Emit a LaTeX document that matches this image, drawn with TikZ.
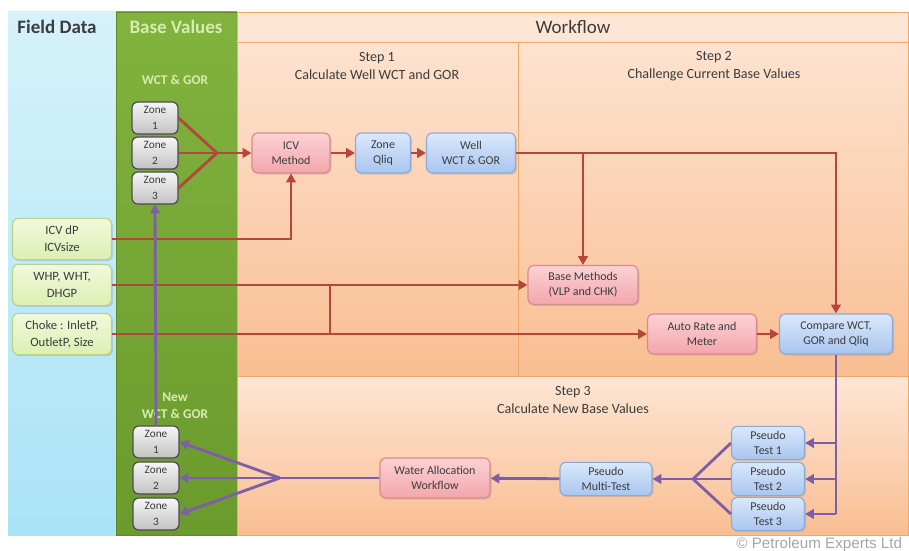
\documentclass[tikz,border=0pt]{standalone}
\usepackage{fontspec}
\setmainfont{Carlito}
\newfontfamily\creditfont{Liberation Sans}
\usetikzlibrary{arrows.meta,shadows}
\definecolor{fieldtop}{HTML}{D6F2FB}
\definecolor{fieldbot}{HTML}{A9E3F6}
\definecolor{basetop}{HTML}{82B33E}
\definecolor{basebot}{HTML}{6B9A2D}
\definecolor{baseedge}{HTML}{5F8A28}
\definecolor{basetext}{HTML}{D8ECB0}
\definecolor{wftop}{HTML}{FDE3D0}
\definecolor{wfbot}{HTML}{F9BE92}
\definecolor{wfhead}{HTML}{FDE6D5}
\definecolor{wfedge}{HTML}{F0A868}
\definecolor{pinktop}{HTML}{FBD2D4}
\definecolor{pinkbot}{HTML}{F3A6AC}
\definecolor{pinkedge}{HTML}{D98A8E}
\definecolor{bluetop}{HTML}{DAE8FB}
\definecolor{bluebot}{HTML}{A9C5EF}
\definecolor{blueedge}{HTML}{8EAAD6}
\definecolor{zonetop}{HTML}{F6F6F6}
\definecolor{zonebot}{HTML}{C2C2C2}
\definecolor{zoneedge}{HTML}{4A4A4A}
\definecolor{datatop}{HTML}{F1F9DC}
\definecolor{databot}{HTML}{DCEFB2}
\definecolor{dataedge}{HTML}{B5D48A}
\definecolor{boxtext}{HTML}{3C3C3C}
\definecolor{flowred}{HTML}{B5463C}
\definecolor{flowpurple}{HTML}{7E5EA8}
\tikzset{
  box/.style={draw,rounded corners=1.5mm,line width=0.8pt,align=center,
    inner sep=1pt,text=boxtext,font=\fontsize{8.5}{10.5}\selectfont,
    drop shadow={opacity=0.25,shadow xshift=0.4mm,shadow yshift=-0.4mm}},
  pinkbox/.style={box,draw=pinkedge,top color=pinktop,bottom color=pinkbot},
  bluebox/.style={box,draw=blueedge,top color=bluetop,bottom color=bluebot},
  zonebox/.style={box,draw=zoneedge,top color=zonetop,bottom color=zonebot,
    minimum width=11.5mm,minimum height=8mm,font=\fontsize{8}{11}\selectfont},
  databox/.style={box,draw=dataedge,top color=datatop,bottom color=databot,
    minimum width=24.75mm,minimum height=10.3mm,font=\fontsize{9}{12}\selectfont},
  testbox/.style={bluebox,minimum width=18.25mm,minimum height=8.3mm},
  flow/.style={-{Triangle[length=2.2mm,width=2.4mm]},line width=2pt,draw=flowred},
  line/.style={line width=2pt,draw=flowred},
  back/.style={-{Triangle[length=2.2mm,width=2.4mm]},line width=2pt,draw=flowpurple},
  backline/.style={line width=2pt,draw=flowpurple},
  title/.style={font=\fontsize{13.5}{16}\selectfont},
  steptitle/.style={align=center,text=boxtext,font=\fontsize{10}{12.8}\selectfont}
}

\begin{document}
\begin{tikzpicture}[x=0.025cm,y=-0.025cm]
  \useasboundingbox (0,0) rectangle (909,551);
  \shade[top color=fieldtop,bottom color=fieldbot] (8,12) rectangle (116,535);
  \shade[top color=basetop,bottom color=basebot,draw=baseedge] (116,12) rectangle (237,535);
  \fill[wfhead,draw=wfedge] (237,12) rectangle (908,42);
  \shade[top color=wftop,bottom color=wfbot,draw=wfedge] (237,42) rectangle (518,376);
  \shade[top color=wftop,bottom color=wfbot,draw=wfedge] (518,42) rectangle (908,376);
  \shade[top color=wfhead,bottom color=wfbot,draw=wfedge] (237,376) rectangle (908,535);

  \node[title,font=\fontsize{13.5}{16}\selectfont\bfseries,text=boxtext] (fieldtitle) at (57,27) {Field Data};
  \node[title,font=\fontsize{13.5}{16}\selectfont\bfseries,text=basetext] (basetitle) at (176,27) {Base Values};
  \node[title,text=boxtext] (wftitle) at (573,27) {Workflow};
  \node[steptitle] (step1) at (377,66) {Step 1\\Calculate Well WCT and GOR};
  \node[steptitle] (step2) at (714,66) {Step 2\\Challenge Current Base Values};
  \node[steptitle] (step3) at (573,400) {Step 3\\Calculate New Base Values};
  \node[text=basetext,font=\fontsize{9.5}{12}\selectfont\bfseries] (oldlabel) at (175,80) {WCT \& GOR};
  \node[text=basetext,align=center,font=\fontsize{9.5}{12}\selectfont\bfseries] (newlabel) at (175,406) {New\\WCT \& GOR};

  \node[zonebox] (z1) at (155,118) {Zone\\1};
  \node[zonebox] (z2) at (155,153) {Zone\\2};
  \node[zonebox] (z3) at (155,188) {Zone\\3};
  \node[zonebox] (nz1) at (156,442) {Zone\\1};
  \node[zonebox] (nz2) at (156,478) {Zone\\2};
  \node[zonebox] (nz3) at (156,514) {Zone\\3};

  \node[databox] (icvdp) at (62,239) {ICV dP\\ICVsize};
  \node[databox] (whp) at (62,285) {WHP, WHT,\\DHGP};
  \node[databox] (choke) at (62,334) {Choke : InletP,\\OutletP, Size};

  \node[pinkbox,minimum width=19.5mm,minimum height=10mm] (icv) at (291,153) {ICV\\Method};
  \node[bluebox,minimum width=13.75mm,minimum height=10mm] (qliq) at (383,153) {Zone\\Qliq};
  \node[bluebox,minimum width=22.25mm,minimum height=10mm] (well) at (471,153) {Well\\WCT \& GOR};
  \node[pinkbox,minimum width=27.5mm,minimum height=9.75mm] (basem) at (583,285) {Base Methods\\(VLP and CHK)};
  \node[pinkbox,minimum width=27.25mm,minimum height=10mm] (auto) at (702,334) {Auto Rate and\\Meter};
  \node[bluebox,minimum width=28.25mm,minimum height=10mm] (compare) at (836,334) {Compare WCT,\\GOR and Qliq};
  \node[testbox] (pt1) at (768,443) {Pseudo\\Test 1};
  \node[testbox] (pt2) at (768,479) {Pseudo\\Test 2};
  \node[testbox] (pt3) at (768,514) {Pseudo\\Test 3};
  \node[bluebox,minimum width=23mm,minimum height=8.3mm] (multi) at (606,479) {Pseudo\\Multi-Test};
  \node[pinkbox,minimum width=27.5mm,minimum height=10mm] (water) at (435,478) {Water Allocation\\Workflow};

  \node[anchor=east,text=gray!70,font=\creditfont\fontsize{10.8}{13}\selectfont] (credit) at (907,545) {\textcopyright{} Petroleum Experts Ltd};

  \coordinate (zjoin) at (217,153);
  \coordinate (tap) at (330,285);
  \coordinate (tjoin) at (693,479);
  \coordinate (njoin) at (280,478);

  \draw[line] (z1.east) -- (zjoin);
  \draw[line] (z2.east) -- (zjoin);
  \draw[line] (z3.east) -- (zjoin);
  \draw[flow] (zjoin) -- (icv.west);
  \draw[flow] (icv) -- (qliq);
  \draw[flow] (qliq) -- (well);
  \draw[flow] (icvdp.east) -- (icvdp.east -| icv.south) -- (icv.south);
  \draw[flow] (whp.east) -- (basem.west);
  \draw[flow] (choke.east) -- (auto.west);
  \draw[line] (tap) -- (tap |- choke);
  \draw[flow] (well.east) -- (well.east -| compare.north) -- (compare.north);
  \draw[flow] (well.east -| basem.north) -- (basem.north);
  \draw[flow] (auto) -- (compare);

  \draw[backline] (compare.south) -- (compare.south |- pt3);
  \draw[back] (compare.south |- pt1) -- (pt1.east);
  \draw[back] (compare.south |- pt2) -- (pt2.east);
  \draw[back] (compare.south |- pt3) -- (pt3.east);
  \draw[backline] (pt1.west) -- (tjoin);
  \draw[backline] (pt2.west) -- (tjoin);
  \draw[backline] (pt3.west) -- (tjoin);
  \draw[back] (tjoin) -- (multi.east);
  \draw[back] (multi) -- (water);
  \draw[backline] (water.west) -- (njoin);
  \draw[back] (njoin) -- (nz1.east);
  \draw[back] (njoin) -- (nz2.east);
  \draw[back] (njoin) -- (nz3.east);
  \draw[back] (nz1.north) -- (z3.south);
\end{tikzpicture}
\end{document}
